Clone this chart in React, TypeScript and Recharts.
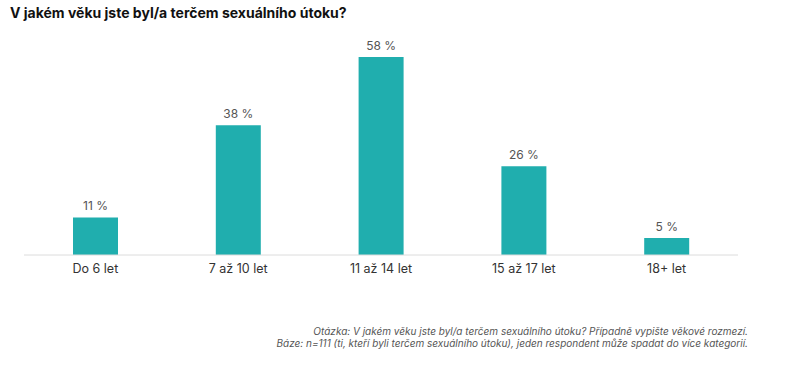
import React from "react";
import { BarChart, Bar, XAxis, YAxis, LabelList } from "recharts";

const categories = ["Do 6 let", "7 až 10 let", "11 až 14 let", "15 až 17 let", "18+ let"];
const values = [11, 38, 58, 26, 5];

const data = categories.map((c, i) => ({ name: c, value: values[i] }));

const FONT = "Inter, 'Noto Sans', sans-serif";

export default function App() {
  return (
    <div style={{ position: "absolute", left: 0, top: 0, width: 792, height: 378, background: "#fff", fontFamily: FONT }}>
      <div style={{ position: "absolute", left: 10, top: 4, fontSize: 14, fontWeight: 700, color: "#111" }}>
        V jakém věku jste byl/a terčem sexuálního útoku?
      </div>
      <BarChart width={792} height={378} data={data} margin={{ top: 57, right: 54, left: 24, bottom: 93 }}>
        <YAxis hide domain={[0, 58]} />
        <XAxis
          dataKey="name"
          height={30}
          axisLine={{ stroke: "#dcdcdc" }}
          tickLine={false}
          tick={{ fill: "#333", fontSize: 12.5, fontFamily: FONT, dy: 1 }}
        />
        <Bar dataKey="value" fill="#20aeae" barSize={45} isAnimationActive={false}>
          <LabelList
            dataKey="value"
            position="top"
            offset={7}
            formatter={(v: number) => `${v} %`}
            style={{ fill: "#555", fontSize: 12, fontFamily: FONT }}
          />
        </Bar>
      </BarChart>
      <div style={{ position: "absolute", right: 44, top: 325, textAlign: "right", fontSize: 10, fontStyle: "italic", color: "#555", lineHeight: "12px", fontFamily: FONT }}>
        <div>Otázka: V jakém věku jste byl/a terčem sexuálního útoku? Případně vypište věkové rozmezí.</div>
        <div>Báze: n=111 (ti, kteří byli terčem sexuálního útoku), jeden respondent může spadat do více kategorií.</div>
      </div>
    </div>
  );
}
